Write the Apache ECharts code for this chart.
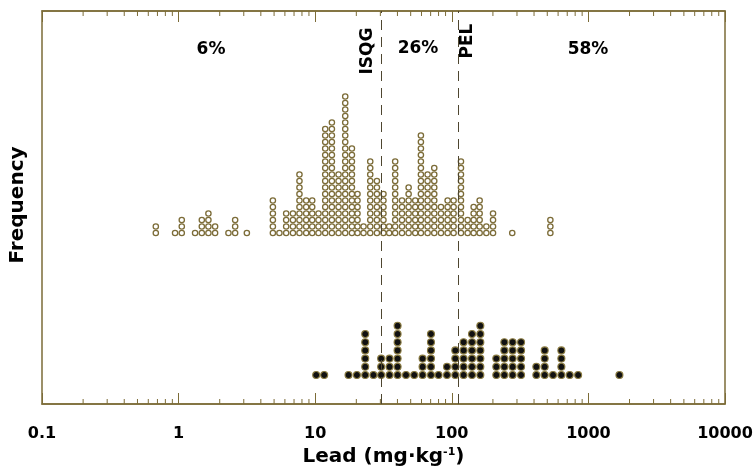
<!DOCTYPE html>
<html>
<head>
<meta charset="utf-8">
<script src="https://cdn.jsdelivr.net/npm/echarts@6.0.0/dist/echarts.min.js"></script>
<style>
html,body{margin:0;padding:0;background:#fff;}
#chart{width:756px;height:476px;}
</style>
</head>
<body>
<div id="chart"></div>
<script>
// ---- data ----
// upper group: open circles (bin centre in mg/kg, number of stacked dots)
const hollowValues = [0.681, 0.942, 1.055, 1.32, 1.479, 1.653, 1.85, 2.317, 2.594, 3.16,
  4.90, 5.47, 6.13, 6.87, 7.67, 8.59, 9.51, 10.57, 11.84, 13.25, 14.82, 16.59, 18.57, 20.4,
  22.59, 25.29, 28.3, 31.6, 34.8, 38.5, 43.2, 48.3, 54.0, 59.4, 66.5, 74.4, 83.3, 93.2,
  103.1, 116.7, 130.6, 144.5, 159.9, 179, 200.4, 277, 526.7];
const hollowCounts = [2, 1, 3, 1, 3, 4, 2, 1, 3, 1,
  6, 1, 4, 4, 10, 6, 6, 4, 17, 18, 10, 22, 14, 7,
  2, 12, 9, 7, 2, 12, 6, 8, 6, 16, 10, 11, 5, 6,
  6, 12, 3, 5, 6, 2, 4, 1, 3];
// lower group: filled circles
const filledValues = [10.17, 11.64, 17.54, 20.2, 23.24, 26.7, 30.4, 35.0, 40.1, 46.2,
  53.1, 61.1, 70.4, 80.0, 92.2, 106.1, 122.0, 140.6, 161.8, 211.8, 242.5, 278.7, 321.4,
  415.9, 478.6, 551, 634, 729.5, 841, 1687];
const filledCounts = [1, 1, 1, 1, 6, 1, 3, 3, 7, 1,
  1, 3, 6, 1, 2, 4, 5, 6, 7, 3, 5, 5, 5,
  2, 4, 1, 4, 1, 1, 1];
// guideline values (mg/kg)
const guideNames = ['ISQG', 'PEL'];
const guideValues = [30.2, 112];
const zoneLabels = ['6%', '26%', '58%'];
const xTickLabels = ['0.1', '1', '10', '100', '1000', '10000'];

// ---- build ----
function stackDots(values, counts) {
  const pts = [];
  values.forEach((v, i) => { for (let k = 0; k < counts[i]; k++) pts.push([v, k]); });
  return pts;
}
const minorTicks = [];
for (let d = -1; d < 4; d++) for (let m = 2; m <= 9; m++) minorTicks.push([m * Math.pow(10, d), 0]);

const OLIVE = '#7c6c38';
const FONT = '"DejaVu Sans", "Liberation Sans", Arial, sans-serif';
const Y0 = { min: -26.31, max: 34.15 };   // upper group axis (one unit per dot)
const Y1 = { min: -3.537, max: 44.39 };   // lower group axis

const chart = echarts.init(document.getElementById('chart'), null, { renderer: 'canvas' });
chart.setOption({
  backgroundColor: '#ffffff',
  animation: false,
  grid: { left: 42, right: 31, top: 11, bottom: 72, show: true, borderColor: OLIVE, borderWidth: 1.5, backgroundColor: 'transparent' },
  xAxis: [{
    type: 'log', logBase: 10, min: 0.1, max: 10000, position: 'bottom',
    axisLine: { show: true, onZero: false, lineStyle: { color: OLIVE, width: 1.5 } },
    axisTick: { show: true, inside: true, length: 11, lineStyle: { color: OLIVE, width: 1 } },
    splitLine: { show: false },
    axisLabel: {
      show: true, margin: 22, color: '#000', fontSize: 16, fontWeight: 'bold', fontFamily: FONT,
      showMinLabel: true, showMaxLabel: true,
      formatter: function (v) {
        const i = Math.round(Math.log10(v)) + 1;
        return xTickLabels[i] !== undefined ? xTickLabels[i] : '';
      }
    },
    name: 'Lead (mg·kg{sup|-1})', nameLocation: 'middle', nameGap: 43,
    nameTextStyle: {
      color: '#000', fontSize: 20, fontWeight: 'bold', fontFamily: FONT,
      rich: { sup: { fontSize: 11, fontWeight: 'bold', fontFamily: FONT, color: '#000', verticalAlign: 'top', padding: [0, 0, 9, 0] } }
    }
  }, {
    type: 'log', logBase: 10, min: 0.1, max: 10000, position: 'top',
    axisLine: { show: true, onZero: false, lineStyle: { color: OLIVE, width: 1.5 } },
    axisTick: { show: true, inside: true, length: 11, lineStyle: { color: OLIVE, width: 1 } },
    axisLabel: { show: false }, splitLine: { show: false }
  }],
  yAxis: [
    { type: 'value', min: Y0.min, max: Y0.max, show: false, splitLine: { show: false } },
    { type: 'value', min: Y1.min, max: Y1.max, show: false, splitLine: { show: false } }
  ],
  series: [
    {
      type: 'custom', xAxisIndex: 0, yAxisIndex: 0, silent: true, clip: false, z: 3,
      data: minorTicks,
      renderItem: function (params, api) {
        const v = api.value(0);
        const pb = api.coord([v, Y0.min]);
        const pt = api.coord([v, Y0.max]);
        return {
          type: 'group', children: [
            { type: 'line', shape: { x1: pb[0], y1: pb[1], x2: pb[0], y2: pb[1] - 5 }, style: { stroke: OLIVE, lineWidth: 1 } },
            { type: 'line', shape: { x1: pt[0], y1: pt[1], x2: pt[0], y2: pt[1] + 5 }, style: { stroke: OLIVE, lineWidth: 1 } }
          ]
        };
      },
      markLine: {
        silent: true, symbol: 'none', label: { show: false },
        lineStyle: { color: '#4e4630', width: 1, type: [10, 7] },
        data: guideValues.map(v => ({ xAxis: v }))
      }
    },
    {
      type: 'scatter', name: 'upper', xAxisIndex: 0, yAxisIndex: 0, z: 4,
      symbol: 'circle', symbolSize: 5.3,
      itemStyle: { color: '#ffffff', borderColor: OLIVE, borderWidth: 1.3, opacity: 1 },
      data: stackDots(hollowValues, hollowCounts)
    },
    {
      type: 'scatter', name: 'lower', xAxisIndex: 0, yAxisIndex: 1, z: 4,
      symbol: 'circle', symbolSize: 7,
      itemStyle: { color: '#111111', borderColor: '#8a7b42', borderWidth: 1.1, opacity: 1 },
      data: stackDots(filledValues, filledCounts)
    }
  ],
  graphic: [
    { type: 'text', x: 211, y: 50, style: { text: zoneLabels[0], fill: '#000', font: 'bold 17px ' + FONT, textAlign: 'center', textVerticalAlign: 'middle' } },
    { type: 'text', x: 418, y: 49, style: { text: zoneLabels[1], fill: '#000', font: 'bold 17px ' + FONT, textAlign: 'center', textVerticalAlign: 'middle' } },
    { type: 'text', x: 588, y: 50, style: { text: zoneLabels[2], fill: '#000', font: 'bold 17px ' + FONT, textAlign: 'center', textVerticalAlign: 'middle' } },
    { type: 'text', x: 368, y: 51, rotation: Math.PI / 2, style: { text: guideNames[0], fill: '#000', font: 'bold 17px ' + FONT, textAlign: 'center', textVerticalAlign: 'middle' } },
    { type: 'text', x: 468, y: 41, rotation: Math.PI / 2, style: { text: guideNames[1], fill: '#000', font: 'bold 17px ' + FONT, textAlign: 'center', textVerticalAlign: 'middle' } },
    { type: 'text', x: 18, y: 205, rotation: Math.PI / 2, style: { text: 'Frequency', fill: '#000', font: 'bold 20px ' + FONT, textAlign: 'center', textVerticalAlign: 'middle' } }
  ]
});
</script>
</body>
</html>
